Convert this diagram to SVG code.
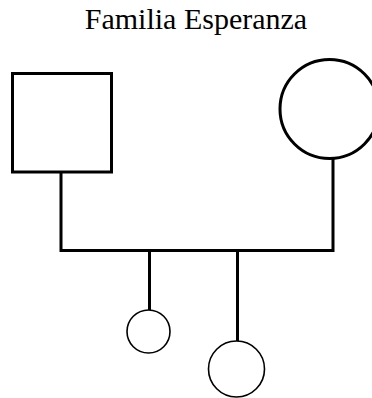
<svg xmlns="http://www.w3.org/2000/svg" width="372" height="398" viewBox="0 0 372 398">
  <style>
    .title { font-family: "Liberation Serif", "Times New Roman", serif; font-size: 30px; fill: #000; }
    .parent { fill: #fff; stroke: #000; stroke-width: 3; }
    .child { fill: #fff; stroke: #000; stroke-width: 1.6; }
    .link { fill: none; stroke: #000; stroke-width: 3; }
  </style>
  <rect width="372" height="398" fill="#fff"/>
  <text class="title" x="196" y="28.5" text-anchor="middle">Familia Esperanza</text>
  <g id="connectors">
    <polyline class="link" points="61,172 61,250.5 333,250.5 333,159"/>
    <line class="link" x1="149.5" y1="250.5" x2="149.5" y2="310"/>
    <line class="link" x1="237.5" y1="250.5" x2="237.5" y2="341"/>
  </g>
  <g id="father">
    <rect class="parent" x="12.5" y="73.5" width="99" height="98.5"/>
  </g>
  <g id="mother">
    <circle class="parent" cx="329.5" cy="109" r="49.5"/>
  </g>
  <g id="child1">
    <circle class="child" cx="148.5" cy="331.5" r="21.5"/>
  </g>
  <g id="child2">
    <circle class="child" cx="236.5" cy="369" r="28"/>
  </g>
</svg>
